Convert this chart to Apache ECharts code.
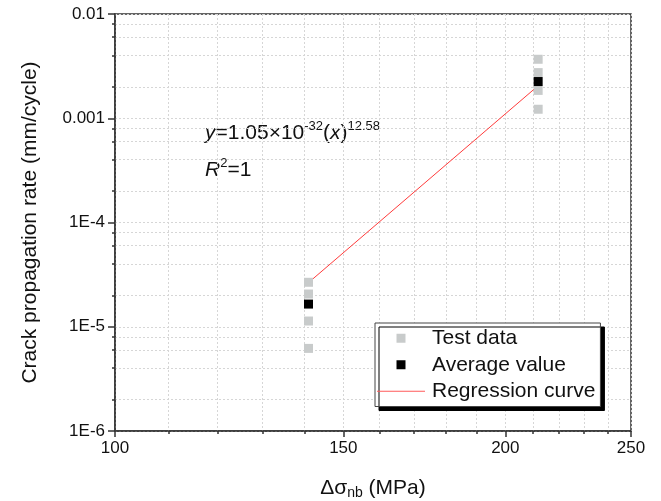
<!DOCTYPE html>
<html>
<head>
<meta charset="utf-8">
<script src="https://cdn.jsdelivr.net/npm/echarts@6/dist/echarts.min.js"></script>
<style>html,body{margin:0;padding:0;background:#fff}#c{width:661px;height:501px}</style>
</head>
<body>
<div id="c"></div>
<script>
// ---- data ----
var testX = [141, 141, 141, 141, 212, 212, 212, 212];
var testY = [2.67e-5, 2.06e-5, 1.135e-5, 6.2e-6, 3.68e-3, 2.74e-3, 1.85e-3, 1.22e-3];
var avgX = [141, 212];
var avgY = [1.65e-5, 2.25e-3];
var fitX = [141, 212];
var fitY = [2.65e-5, 2.05e-3];

var xMajor = [100, 150, 200, 250];
var xMinor = [110, 120, 130, 140, 160, 170, 180, 190, 210, 220, 230, 240];
var yMajor = [1e-6, 1e-5, 1e-4, 1e-3, 1e-2];
var yMajorLabels = ['1E-6', '1E-5', '1E-4', '0.001', '0.01'];
var yMinor = [2e-6, 4e-6, 6e-6, 8e-6, 2e-5, 4e-5, 6e-5, 8e-5,
              2e-4, 4e-4, 6e-4, 8e-4, 2e-3, 4e-3, 6e-3, 8e-3];

var FONT = '"Liberation Sans", Arial, sans-serif';
var AX = '#333333';
var GRIDC = '#d6d6d6';
// legend icons drawn inside a 48x9 box
var SQUARE_ICON = 'path://M0,4.5L0,4.5M19.5,0L28.5,0L28.5,9L19.5,9ZM48,4.5L48,4.5';
var LINE_ICON = 'path://M0,0L0,0M0,4L48,4L48,5L0,5ZM48,9L48,9';

function pairs(xs, ys) { return xs.map(function (x, i) { return [x, ys[i]]; }); }

var chart = echarts.init(document.getElementById('c'), null, { renderer: 'canvas' });
chart.setOption({
  animation: false,
  backgroundColor: '#ffffff',
  grid: { left: 115, right: 30, top: 14, bottom: 70, containLabel: false, outerBoundsMode: 'none',
          show: true, borderColor: AX, borderWidth: 1.5, backgroundColor: 'transparent' },
  xAxis: [{
    type: 'log', logBase: 10, min: 100, max: 250, position: 'bottom',
    name: '{a|Δσ}{s|nb}{a| (MPa)}', nameLocation: 'middle', nameGap: 45,
    nameTextStyle: { fontFamily: FONT, color: '#111', rich: {
      a: { fontSize: 21, fontFamily: FONT, color: '#111', lineHeight: 24 },
      s: { fontSize: 14, fontFamily: FONT, color: '#111', verticalAlign: 'bottom', lineHeight: 16 } } },
    axisLine: { show: true, lineStyle: { color: AX, width: 1.5 } },
    axisTick: { show: true, inside: false, length: 6, customValues: xMajor, lineStyle: { color: AX, width: 1.5 } },
    axisLabel: { show: true, customValues: xMajor, margin: 9, fontSize: 17, fontFamily: FONT, color: '#111',
      formatter: function (v) { return String(Math.round(v)); } },
    splitLine: { show: true, lineStyle: { color: GRIDC, type: [2, 2], width: 1 } }
  }, {
    type: 'log', logBase: 10, min: 100, max: 250, position: 'bottom',
    axisLine: { show: false },
    axisTick: { show: true, inside: false, length: 3, customValues: xMinor, lineStyle: { color: AX, width: 1.5 } },
    axisLabel: { show: false },
    splitLine: { show: true, lineStyle: { color: GRIDC, type: [2, 2], width: 1 } }
  }],
  yAxis: [{
    type: 'log', logBase: 10, min: 1e-6, max: 1e-2, position: 'left',
    name: 'Crack propagation rate (mm/cycle)', nameLocation: 'middle', nameGap: 74, nameRotate: 90,
    nameTextStyle: { fontSize: 21, fontFamily: FONT, color: '#111' },
    axisLine: { show: true, lineStyle: { color: AX, width: 1.5 } },
    axisTick: { show: true, inside: false, length: 7, customValues: yMajor, lineStyle: { color: AX, width: 1.5 } },
    axisLabel: { show: true, customValues: yMajor, margin: 10, fontSize: 17, fontFamily: FONT, color: '#111',
      formatter: function (v) {
        var e = Math.round(Math.log10(v));
        var idx = -1;
        for (var i = 0; i < yMajor.length; i++) { if (Math.round(Math.log10(yMajor[i])) === e) idx = i; }
        return idx >= 0 ? yMajorLabels[idx] : '';
      } },
    splitLine: { show: true, lineStyle: { color: GRIDC, type: [2, 2], width: 1 } }
  }, {
    type: 'log', logBase: 10, min: 1e-6, max: 1e-2, position: 'left',
    axisLine: { show: false },
    axisTick: { show: true, inside: false, length: 3, customValues: yMinor, lineStyle: { color: AX, width: 1.5 } },
    axisLabel: { show: false },
    splitLine: { show: true, lineStyle: { color: GRIDC, type: [2, 2], width: 1 } }
  }],
  legend: {
    orient: 'vertical', left: 375, top: 323,
    padding: [2, 5, 2, 2], itemGap: 0, itemWidth: 48, itemHeight: 9,
    backgroundColor: '#ffffff', borderColor: '#444', borderWidth: 1,
    shadowColor: '#000', shadowBlur: 0, shadowOffsetX: 4, shadowOffsetY: 4,
    textStyle: { fontSize: 21, fontFamily: FONT, color: '#111', lineHeight: 26.5, padding: [0, 0, 0, 2] },
    data: [
      { name: 'Test data', icon: SQUARE_ICON },
      { name: 'Average value', icon: SQUARE_ICON },
      { name: 'Regression curve', icon: LINE_ICON }
    ]
  },
  graphic: [{
    type: 'text', left: 205, top: 120,
    style: {
      text: '{i|y}{n|=1.05×10}{p|-32}{n|(}{i|x}{n|)}{p|12.58}',
      rich: {
        n: { fontSize: 21, fontFamily: FONT, fill: '#111', lineHeight: 26 },
        i: { fontSize: 21, fontFamily: FONT, fontStyle: 'italic', fill: '#111', lineHeight: 26 },
        p: { fontSize: 13, fontFamily: FONT, fill: '#111', verticalAlign: 'top', lineHeight: 14 }
      }
    }
  }, {
    type: 'text', left: 205, top: 157,
    style: {
      text: '{i|R}{p|2}{n|=1}',
      rich: {
        n: { fontSize: 21, fontFamily: FONT, fill: '#111', lineHeight: 26 },
        i: { fontSize: 21, fontFamily: FONT, fontStyle: 'italic', fill: '#111', lineHeight: 26 },
        p: { fontSize: 13, fontFamily: FONT, fill: '#111', verticalAlign: 'top', lineHeight: 14 }
      }
    }
  }],
  series: [{
    name: 'Regression curve', type: 'line', xAxisIndex: 0, yAxisIndex: 0,
    data: pairs(fitX, fitY), symbol: 'none', showSymbol: false,
    lineStyle: { color: '#ff3b3b', width: 1 }, itemStyle: { color: '#ff5a5a' }, z: 3
  }, {
    name: 'Test data', type: 'scatter', xAxisIndex: 0, yAxisIndex: 0,
    data: pairs(testX, testY), symbol: 'rect', symbolSize: 9,
    itemStyle: { color: '#c8cbcb', opacity: 1 }, z: 4
  }, {
    name: 'Average value', type: 'scatter', xAxisIndex: 0, yAxisIndex: 0,
    data: pairs(avgX, avgY), symbol: 'rect', symbolSize: 9,
    itemStyle: { color: '#000000', opacity: 1 }, z: 5
  }]
});
</script>
</body>
</html>
